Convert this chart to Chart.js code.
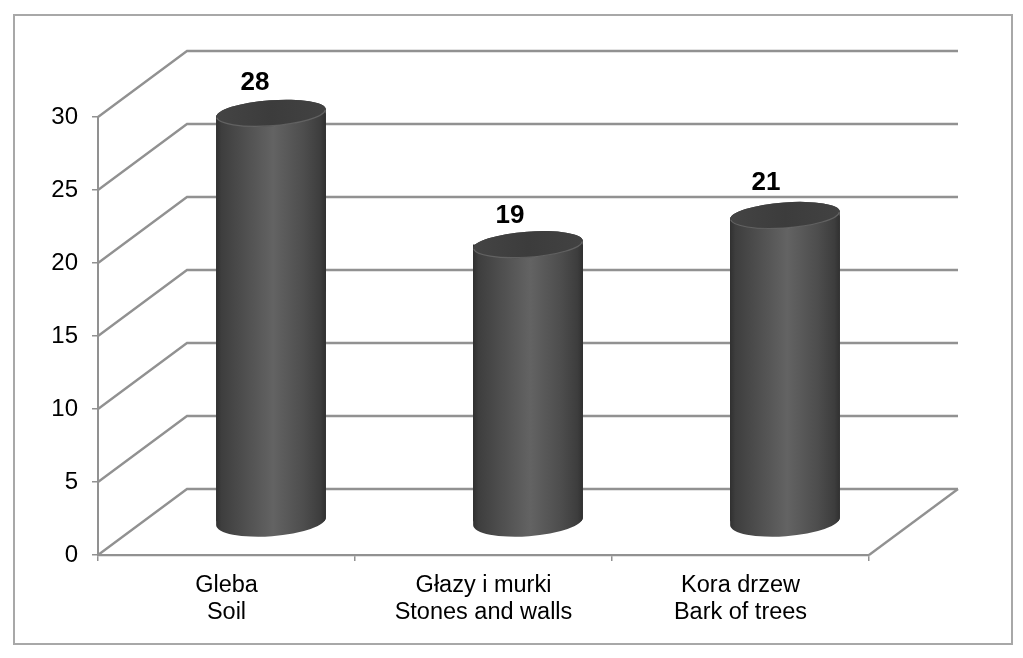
<!DOCTYPE html>
<html>
<head>
<meta charset="utf-8">
<style>
html,body{margin:0;padding:0;background:#fff;}
canvas{display:block;}
</style>
<script src="https://cdn.jsdelivr.net/npm/chart.js@4/dist/chart.umd.min.js"></script>
</head>
<body>
<canvas id="c" width="1023" height="658"></canvas>
<script>
const categoriesPl = ['Gleba', 'Głazy i murki', 'Kora drzew'];
const categoriesEn = ['Soil', 'Stones and walls', 'Bark of trees'];
const values = [28, 19, 21];
const yTicks = [0, 5, 10, 15, 20, 25, 30];

const LINE = '#919191';
const FONT = '"Liberation Sans", Arial, sans-serif';
const DEPTH_X = 89, DEPTH_Y = -66;      // full depth of the 3-D floor
const RX = 55, RY = 13, RY_BOTTOM = 15, TILT = -0.072;  // cylinder cap ellipses
const LABEL_SHIFT = [[-16, -30], [-18, -29], [-19, -33]];

function barGradient(ctx, x) {
  const g = ctx.createLinearGradient(x - RX, 0, x + RX, 0);
  g.addColorStop(0, '#303030');
  g.addColorStop(0.05, '#3e3e3e');
  g.addColorStop(0.25, '#4e4e4e');
  g.addColorStop(0.52, '#636363');
  g.addColorStop(0.8, '#4d4d4d');
  g.addColorStop(0.95, '#3d3d3d');
  g.addColorStop(1, '#303030');
  return g;
}
function silhouette(ctx, x, top, base) {
  const dx = RX * Math.cos(TILT), dy = RX * Math.sin(TILT);
  ctx.ellipse(x, top, RX, RY, TILT, Math.PI, 2 * Math.PI);
  ctx.lineTo(x + dx, base + dy);
  ctx.ellipse(x, base, RX, RY_BOTTOM, TILT, 0, Math.PI);
  ctx.closePath();
}

const wallPlugin = {
  id: 'wall',
  beforeDraw(chart) {
    const { ctx, chartArea: a, scales: { y } } = chart;
    ctx.save();
    ctx.fillStyle = '#fff';
    ctx.fillRect(0, 0, chart.width, chart.height);
    ctx.strokeStyle = '#a8a8a8';
    ctx.lineWidth = 2;
    ctx.strokeRect(14, 15, 998, 629);
    ctx.strokeStyle = LINE;
    ctx.lineWidth = 2.3;
    yTicks.forEach(v => {
      const py = y.getPixelForValue(v);
      ctx.beginPath();
      ctx.moveTo(a.left, py);
      ctx.lineTo(a.left + DEPTH_X, py + DEPTH_Y);
      ctx.lineTo(a.right + DEPTH_X, py + DEPTH_Y);
      ctx.stroke();
    });
    const py0 = y.getPixelForValue(0);
    ctx.beginPath();
    ctx.moveTo(a.right, py0);
    ctx.lineTo(a.right + DEPTH_X, py0 + DEPTH_Y);
    ctx.stroke();
    ctx.restore();
  }
};

const cylinderPlugin = {
  id: 'cylinder',
  beforeDatasetDraw(chart, args) {
    const { ctx } = chart;
    ctx.save();
    ctx.translate(DEPTH_X / 2, DEPTH_Y / 2);
    args.meta.data.forEach(b => {
      ctx.beginPath();
      silhouette(ctx, b.x, b.y, b.base);
      ctx.fillStyle = barGradient(ctx, b.x);
      ctx.fill();
    });
    ctx.beginPath();
    args.meta.data.forEach(b => silhouette(ctx, b.x, b.y, b.base));
    ctx.clip();
  },
  afterDatasetDraw(chart, args) {
    const { ctx } = chart;
    ctx.restore();
    ctx.save();
    ctx.translate(DEPTH_X / 2, DEPTH_Y / 2);
    args.meta.data.forEach((b, i) => {
      const g = ctx.createLinearGradient(b.x - RX, 0, b.x + RX, 0);
      g.addColorStop(0, '#444444');
      g.addColorStop(0.5, '#3c3c3c');
      g.addColorStop(1, '#424242');
      ctx.beginPath();
      ctx.ellipse(b.x, b.y, RX, RY, TILT, 0, 2 * Math.PI);
      ctx.fillStyle = g;
      ctx.fill();
      ctx.beginPath();
      ctx.ellipse(b.x, b.y, RX - 0.5, RY - 0.5, TILT, 0.05, Math.PI - 0.05);
      ctx.strokeStyle = 'rgba(130,130,130,0.5)';
      ctx.lineWidth = 1.2;
      ctx.stroke();
      ctx.fillStyle = '#000';
      ctx.font = 'bold 26px ' + FONT;
      ctx.textAlign = 'center';
      ctx.textBaseline = 'middle';
      ctx.fillText(String(values[i]), b.x + LABEL_SHIFT[i][0], b.y + LABEL_SHIFT[i][1]);
    });
    ctx.restore();
  }
};

new Chart(document.getElementById('c'), {
  type: 'bar',
  data: {
    labels: categoriesPl.map((p, i) => [p, categoriesEn[i]]),
    datasets: [{
      data: values,
      clip: false,
      categoryPercentage: 1,
      barPercentage: 110 / 257,
      borderWidth: 0,
      backgroundColor(c) {
        if (!c.chart.chartArea) return '#444';
        return barGradient(c.chart.ctx, c.chart.scales.x.getPixelForValue(c.dataIndex));
      }
    }]
  },
  plugins: [wallPlugin, cylinderPlugin],
  options: {
    responsive: false,
    animation: false,
    layout: { padding: { left: 0, top: 117, right: 154, bottom: 0 } },
    plugins: { legend: { display: false }, tooltip: { enabled: false }, title: { display: false } },
    scales: {
      x: {
        afterFit(s) { s.height = 103; },
        border: { display: true, color: LINE, width: 2.3 },
        grid: { display: true, drawOnChartArea: false, drawTicks: true, tickLength: 6, color: LINE, lineWidth: 1.5, offset: true },
        ticks: { color: '#000', font: { family: FONT, size: 23.5, lineHeight: 1.15 }, padding: 11, maxRotation: 0, autoSkip: false }
      },
      y: {
        min: 0, max: 30,
        afterFit(s) { s.width = 98; },
        afterBuildTicks(s) { s.ticks = yTicks.map(v => ({ value: v })); },
        border: { display: true, color: LINE, width: 2 },
        grid: { display: true, drawOnChartArea: false, drawTicks: true, tickLength: 6, color: LINE, lineWidth: 1.5 },
        ticks: { color: '#000', font: { family: FONT, size: 24 }, padding: 14 }
      }
    }
  }
});
</script>
</body>
</html>
